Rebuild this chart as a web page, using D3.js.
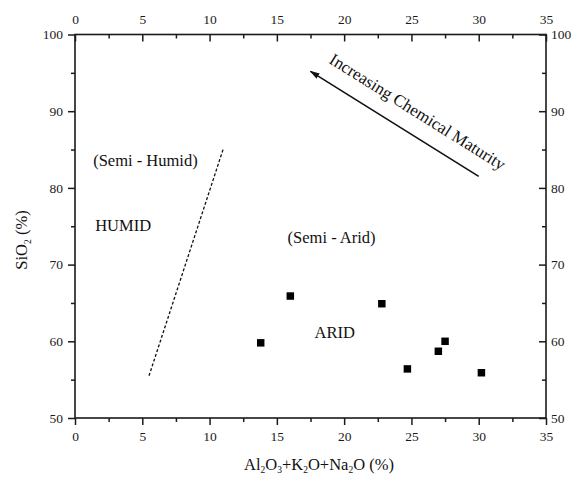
<!DOCTYPE html>
<html>
<head>
<meta charset="utf-8">
<script src="https://cdn.jsdelivr.net/npm/d3@7"></script>
<style>
  html, body { margin: 0; padding: 0; background: #fff; }
  svg { display: block; font-family: "Liberation Serif", "Times New Roman", serif; }
  .axis path { display: none; }
  .axis line { stroke: #1a1a1a; stroke-width: 1.5; }
  .axis text { fill: #1a1a1a; font-size: 13.5px; font-family: "Liberation Serif", serif; }
</style>
</head>
<body>
<svg id="chart" width="580" height="477"></svg>
<script>
// Sample composition: Al2O3+K2O+Na2O (%) vs SiO2 (%)
const alkaliAlumina = [13.8, 16.0, 22.8, 24.7, 27.0, 27.5, 30.2];
const silica        = [59.8, 65.9, 64.9, 56.4, 58.7, 60.0, 55.9];

const xTicks = [0, 5, 10, 15, 20, 25, 30, 35];
const xMinor = [2.5, 7.5, 12.5, 17.5, 22.5, 27.5, 32.5];
const yTicks = [50, 60, 70, 80, 90, 100];
const yMinor = [55, 65, 75, 85, 95];

// humid / arid boundary (dotted)
const boundaryX = [5.5, 11.0];
const boundaryY = [55.5, 85.0];

// maturity trend arrow (tail -> head)
const trendX = [30.0, 17.5];
const trendY = [81.5, 95.2];

const regionNames = ["(Semi - Humid)", "HUMID", "(Semi - Arid)", "ARID"];
const regionX = [1.35, 1.5, 15.8, 17.8];
const regionY = [82.9, 74.4, 72.8, 60.4];

const svg = d3.select("#chart");
const plotLeft = 75, plotRight = 546, plotTop = 34.5, plotBottom = 418;

const x = d3.scaleLinear().domain([0, 35]).range([plotLeft, plotRight]);
const y = d3.scaleLinear().domain([50, 100]).range([plotBottom, plotTop]);

// frame
svg.append("rect")
  .attr("x", plotLeft).attr("y", plotTop)
  .attr("width", plotRight - plotLeft).attr("height", plotBottom - plotTop)
  .attr("fill", "none").attr("stroke", "#1a1a1a").attr("stroke-width", 1.6);

// axes: bottom/left ticks outward, top/right ticks inward
function addAxis(gen, tx, ty) {
  return svg.append("g").attr("class", "axis")
    .attr("transform", `translate(${tx},${ty})`).call(gen);
}
addAxis(d3.axisBottom(x).tickValues(xTicks).tickSize(7).tickPadding(6).tickSizeOuter(0), 0, plotBottom);
addAxis(d3.axisBottom(x).tickValues(xMinor).tickSize(4).tickFormat("").tickSizeOuter(0), 0, plotBottom);
addAxis(d3.axisTop(x).tickValues(xTicks).tickSizeInner(-7).tickPadding(10.5).tickSizeOuter(0), 0, plotTop);
addAxis(d3.axisTop(x).tickValues(xMinor).tickSizeInner(-4).tickFormat("").tickSizeOuter(0), 0, plotTop);
addAxis(d3.axisLeft(y).tickValues(yTicks).tickSize(7).tickPadding(5).tickSizeOuter(0), plotLeft, 0);
addAxis(d3.axisLeft(y).tickValues(yMinor).tickSize(4).tickFormat("").tickSizeOuter(0), plotLeft, 0);
addAxis(d3.axisRight(y).tickValues(yTicks).tickSizeInner(-7).tickPadding(5).tickSizeOuter(0), plotRight, 0);
addAxis(d3.axisRight(y).tickValues(yMinor).tickSizeInner(-4).tickFormat("").tickSizeOuter(0), plotRight, 0);

// axis titles
const xt = svg.append("text")
  .attr("x", 319).attr("y", 469.5)
  .attr("text-anchor", "middle")
  .attr("font-size", 16.5).attr("fill", "#111");
[["Al", 0], ["2", 1], ["O", 0], ["3", 1], ["+K", 0], ["2", 1], ["O+Na", 0], ["2", 1], ["O (%)", 0]]
  .forEach(([t, sub], i, arr) => {
    const ts = xt.append("tspan").text(t);
    if (sub) ts.attr("font-size", 9.5).attr("dy", 3.5);
    else if (i > 0 && arr[i - 1][1]) ts.attr("dy", -3.5);
  });

const yt = svg.append("text")
  .attr("transform", "translate(27,240) rotate(-90)")
  .attr("text-anchor", "middle")
  .attr("font-size", 16.5).attr("fill", "#111");
yt.append("tspan").text("SiO");
yt.append("tspan").text("2").attr("font-size", 9.5).attr("dy", 3.5);
yt.append("tspan").text(" (%)").attr("dy", -3.5);

// boundary line
svg.append("line")
  .attr("x1", x(boundaryX[0])).attr("y1", y(boundaryY[0]))
  .attr("x2", x(boundaryX[1])).attr("y2", y(boundaryY[1]))
  .attr("stroke", "#111").attr("stroke-width", 1.3)
  .attr("stroke-dasharray", "3,2");

// trend arrow
svg.append("defs").append("marker")
  .attr("id", "head")
  .attr("viewBox", "0 0 10 6")
  .attr("refX", 9).attr("refY", 3)
  .attr("markerWidth", 10).attr("markerHeight", 6)
  .attr("markerUnits", "userSpaceOnUse")
  .attr("orient", "auto")
  .append("path").attr("d", "M0,0 L10,3 L0,6 Z").attr("fill", "#111");

svg.append("line")
  .attr("x1", x(trendX[0])).attr("y1", y(trendY[0]))
  .attr("x2", x(trendX[1])).attr("y2", y(trendY[1]))
  .attr("stroke", "#111").attr("stroke-width", 1.6)
  .attr("marker-end", "url(#head)");

const ang = Math.atan2(y(trendY[0]) - y(trendY[1]), x(trendX[0]) - x(trendX[1])) * 180 / Math.PI;
svg.append("text")
  .attr("transform", `translate(${x(25.45)},${y(89.9)}) rotate(${ang})`)
  .attr("text-anchor", "middle")
  .attr("dominant-baseline", "central")
  .attr("font-size", 17).attr("fill", "#111")
  .text("Increasing Chemical Maturity");

// region labels
svg.selectAll("text.region")
  .data(regionNames)
  .join("text")
  .attr("class", "region")
  .attr("x", (d, i) => x(regionX[i]))
  .attr("y", (d, i) => y(regionY[i]))
  .attr("font-size", 16.5).attr("fill", "#111")
  .text(d => d);

// samples
svg.selectAll("path.pt")
  .data(alkaliAlumina.map((v, i) => [v, silica[i]]))
  .join("path")
  .attr("class", "pt")
  .attr("transform", d => `translate(${x(d[0])},${y(d[1])})`)
  .attr("d", d3.symbol(d3.symbolSquare, 56))
  .attr("fill", "#000");
</script>
</body>
</html>
